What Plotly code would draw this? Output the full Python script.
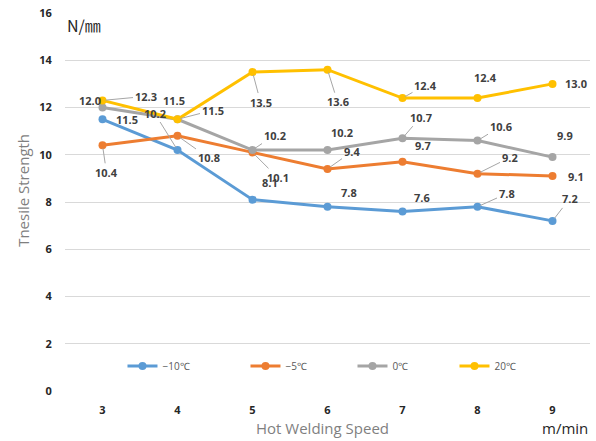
import math
import plotly.graph_objects as go

speed = [3, 4, 5, 6, 7, 8, 9]
series_names = ["−10℃", "−5℃", "0℃", "20℃"]
minus10 = [11.5, 10.2, 8.1, 7.8, 7.6, 7.8, 7.2]
minus5 = [10.4, 10.8, 10.1, 9.4, 9.7, 9.2, 9.1]
zero = [12.0, 11.5, 10.2, 10.2, 10.7, 10.6, 9.9]
plus20 = [12.3, 11.5, 13.5, 13.6, 12.4, 12.4, 13.0]
y_ticks = [0, 2, 4, 6, 8, 10, 12, 14, 16]

colors = ["#5B9BD5", "#ED7D31", "#A5A5A5", "#FFC000"]
legend_widths = [78, 62, 57, 60]

# label offsets in px (text centre relative to point), like excel's dragged labels
label_offsets = [
    [(24, 0), (-23, -37), (17, -17), (21, -14), (19, -14), (29, -13), (17, -22)],
    [(4, 27), (31, 22), (25, 25), (24, -17), (20, -16), (32, -16), (23, 0)],
    [(-13, -7), (35, -9), (22, -15), (14, -18), (18, -21), (23, -14), (12, -22)],
    [(43, -4), (-4, -19), (8, 30), (10, 32), (23, -13), (8, -21), (23, 0)],
]

fig = go.Figure()
annotations = []
for name, vals, col, offs, lw in zip(series_names, [minus10, minus5, zero, plus20],
                                     colors, label_offsets, legend_widths):
    fig.add_trace(go.Scatter(x=speed, y=vals, name=name, mode="lines+markers",
                             line=dict(color=col, width=3),
                             marker=dict(color=col, size=8), legendwidth=lw))
    for x, v, (ax, ay) in zip(speed, vals, offs):
        lbl = dict(x=x, y=v, xref="x", yref="y", text=f"{v:.1f}",
                   font=dict(family="Open Sans", size=11, color="#404040", weight="bold"))
        if math.hypot(ax, ay) > 26:
            lbl.update(showarrow=True, ax=ax, ay=ay, arrowhead=0, arrowwidth=1,
                       arrowcolor="#A6A6A6", standoff=3)
        else:
            lbl.update(showarrow=False, xshift=ax, yshift=-ay)
        annotations.append(lbl)

gray_font = dict(family="Open Sans", size=15, color="#7F7F7F")
annotations += [
    dict(text="N/㎜", x=0.0, y=0.968, xref="paper", yref="paper", xanchor="left",
         yanchor="middle", showarrow=False, font=dict(family="Noto Sans CJK JP", size=16, color="#262626")),
    dict(text="m/min", x=1.0, y=-0.098, xref="paper", yref="paper", xanchor="right",
         yanchor="middle", showarrow=False, font=dict(family="Open Sans", size=15, color="#262626")),
    dict(text="Hot Welding Speed", x=0.49, y=-0.098, xref="paper", yref="paper",
         xanchor="center", yanchor="middle", showarrow=False, font=gray_font),
    dict(text="Tnesile Strength", x=-0.0815, y=0.53, xref="paper", yref="paper",
         xanchor="center", yanchor="middle", textangle=-90, showarrow=False, font=gray_font),
]

fig.update_layout(
    width=596, height=441,
    margin=dict(l=65, r=6, t=13, b=50),
    paper_bgcolor="white", plot_bgcolor="white",
    annotations=annotations,
    showlegend=True,
    legend=dict(orientation="h", x=0.1095, y=0.066, xanchor="left", yanchor="middle",
                itemwidth=30, bgcolor="rgba(0,0,0,0)",
                font=dict(family="Open Sans", size=10, color="#595959")),
    xaxis=dict(range=[2.5, 9.5], tickvals=speed, showgrid=False, zeroline=False,
               showline=False, ticks="outside", ticklen=9, tickcolor="rgba(0,0,0,0)",
               automargin=False,
               tickfont=dict(family="Open Sans", size=11, color="#262626", weight="bold")),
    yaxis=dict(range=[0, 16], tickvals=y_ticks, showgrid=True, gridcolor="#D9D9D9",
               gridwidth=1, zeroline=False, showline=False, ticks="outside", ticklen=10,
               tickcolor="rgba(0,0,0,0)", automargin=False,
               tickfont=dict(family="Open Sans", size=11, color="#262626", weight="bold")),
)

# the page body has a default 8px margin; drop it so the figure sits at the corner
fig.write_html("out.html", config={"displayModeBar": False},
               post_script="document.body.style.margin='0';")
